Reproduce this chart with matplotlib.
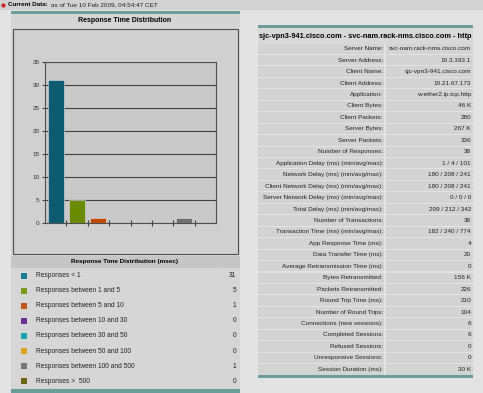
import matplotlib
matplotlib.use("Agg")
import matplotlib.pyplot as plt
from matplotlib.patches import Rectangle

plt.rcParams['font.family'] = ['Liberation Sans', 'DejaVu Sans']

# data
categories = ['Responses < 1', 'Responses between 1 and 5', 'Responses between 5 and 10',
              'Responses between 10 and 30', 'Responses between 30 and 50',
              'Responses between 50 and 100', 'Responses between 100 and 500',
              'Responses >  500']
counts = [31, 5, 1, 0, 0, 0, 1, 0]
bar_colors = ['#0d5b70', '#6a8a00', '#c04a00', '#5a2a7a', '#1090a8', '#d89000', '#707070', '#605800']
swatch_colors = ['#1b7f95', '#7a9a1c', '#c0561c', '#6b3090', '#20a0b8', '#e0a020', '#767676', '#6e6418']
yticks = [0, 5, 10, 15, 20, 25, 30, 35]

detail_title = 'sjc-vpn3-941.cisco.com - svc-nam.rack-nms.cisco.com - http'
detail_labels = ['Server Name:', 'Server Address:', 'Client Name:', 'Client Address:',
                 'Application:', 'Client Bytes:', 'Client Packets:', 'Server Bytes:',
                 'Server Packets:', 'Number of Responses:',
                 'Application Delay (ms) (min/avg/max):', 'Network Delay (ms) (min/avg/max):',
                 'Client Network Delay (ms) (min/avg/max):',
                 'Server Network Delay (ms) (min/avg/max):', 'Total Delay (ms) (min/avg/max):',
                 'Number of Transactions:', 'Transaction Time (ms) (min/avg/max):',
                 'App Response Time (ms):', 'Data Transfer Time (ms):',
                 'Average Retransmission Time (ms):', 'Bytes Retransmitted:',
                 'Packets Retransmitted:', 'Round Trip Time (ms):', 'Number of Round Trips:',
                 'Connections (new sessions):', 'Completed Sessions:', 'Refused Sessions:',
                 'Unresponsive Sessions:', 'Session Duration (ms):']
detail_values = ['svc-nam.rack-nms.cisco.com', '10.3.193.1', 'sjc-vpn3-941.cisco.com',
                 '10.21.67.173', 'w-ether2.ip.tcp.http', '46 K', '280', '267 K', '336', '38',
                 '1 / 4 / 101', '180 / 208 / 241', '180 / 208 / 241', '0 / 0 / 0',
                 '209 / 212 / 342', '38', '182 / 240 / 774', '4', '20', '0', '156 K', '226',
                 '210', '104', '6', '6', '0', '0', '30 K']

W, H = 483, 393
fig = plt.figure(figsize=(W / 100, H / 100), dpi=100)
fig.patch.set_facecolor('#e3e3e3')
bg = fig.add_axes([0, 0, 1, 1])
bg.set_xlim(0, W)
bg.set_ylim(H, 0)
bg.axis('off')

def box(x, y, w, h, fc, ec='none', lw=0, z=1):
    bg.add_patch(Rectangle((x, y), w, h, facecolor=fc, edgecolor=ec, linewidth=lw, zorder=z))

teal = '#6a9e9c'
fs = 4.6

# top bar
box(0, 0, W, 10, '#d2d2d2')
bg.plot([3], [5], 'o', ms=2, color='#cc2222')
bg.text(8, 5, 'Current Data:', fontsize=4.5, fontweight='bold', va='center')
bg.text(51, 5, 'as of Tue 10 Feb 2009, 04:54:47 CET', fontsize=fs, va='center', color='#222')

# left panel
box(11, 11, 229, 2.5, teal, z=2)
box(11, 13, 229, 376, '#d5d5d5')
bg.text(125, 21, 'Response Time Distribution', fontsize=5, fontweight='bold', ha='center', va='center')
box(12.5, 29, 225.5, 224.5, '#d0d0d0', ec='#505050', lw=0.8, z=2)

# legend table
box(11, 256, 229, 12, '#c6c6c6', z=2)
bg.text(125, 262, 'Response Time Distribution (msec)', fontsize=fs, fontweight='bold',
        ha='center', va='center', zorder=3)
row_h = 15.1
for i, (lab, c, v) in enumerate(zip(categories, swatch_colors, counts)):
    y0 = 268 + i * row_h
    box(11, y0 + 0.6, 206, row_h - 1.2, '#d6d6d6', z=2)
    box(218, y0 + 0.6, 22, row_h - 1.2, '#d6d6d6', z=2)
    yc = y0 + row_h / 2
    box(21, yc - 3, 6, 6, c, z=3)
    bg.text(36, yc, lab, fontsize=4.8, va='center', color='#222', zorder=3)
    bg.text(236, yc, str(v), fontsize=4.8, va='center', ha='right', color='#222', zorder=3)
box(11, 389, 229, 4, teal, z=2)

# right table
box(258, 25, 215, 2.5, teal, z=2)
box(258, 27.5, 215, 16, '#d8d8d8', z=2)
bg.text(365.5, 36, detail_title, fontsize=5.3, fontweight='bold', ha='center', va='center', zorder=3)
dh = 11.45
for i, (lab, v) in enumerate(zip(detail_labels, detail_values)):
    y0 = 43 + i * dh
    box(258, y0 + 0.5, 126, dh - 1, '#d3d3d3', z=2)
    box(385.5, y0 + 0.5, 87.5, dh - 1, '#d3d3d3', z=2)
    yc = y0 + dh / 2
    bg.text(383, yc, lab, fontsize=fs, ha='right', va='center', color='#222', zorder=3)
    bg.text(471, yc, v, fontsize=fs, ha='right', va='center', color='#222', zorder=3)
box(258, 375, 215, 3, teal, z=2)

# bar chart
ax = fig.add_axes([45 / W, (H - 223) / H, 171 / W, 161 / H])
ax.set_facecolor('#c9c9c9')
ax.bar(range(len(counts)), counts, width=0.75, color=bar_colors, edgecolor='#dddddd',
       linewidth=0.4, zorder=3)
ax.set_xlim(-0.5, len(counts) - 0.5)
ax.set_ylim(0, 35)
ax.set_yticks(yticks)
ax.yaxis.grid(True, color='#404040', linewidth=0.8, zorder=1)
ax.set_xticks([i + 0.5 for i in range(len(counts) - 1)])
ax.set_xticklabels([])
ax.tick_params(axis='x', direction='inout', length=4, color='#404040', width=0.8)
ax.tick_params(axis='y', length=2, labelsize=4.6, labelcolor='#333', color='#404040', pad=2)
for s in ax.spines.values():
    s.set_color('#505050')
    s.set_linewidth(0.8)

fig.savefig('out.png', dpi=100, facecolor=fig.get_facecolor())
